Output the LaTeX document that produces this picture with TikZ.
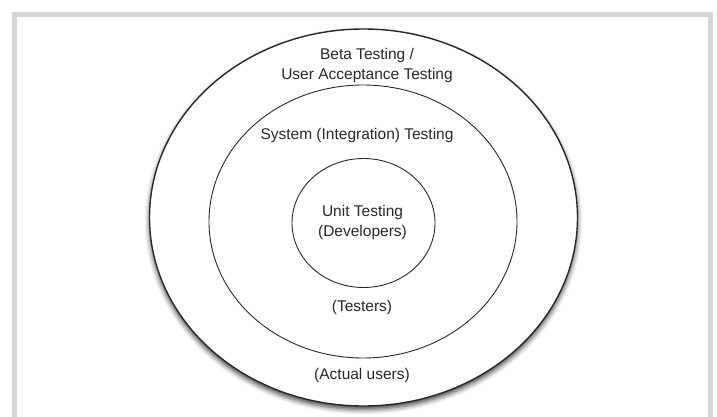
\documentclass[tikz,border=0pt]{standalone}
\usepackage{fontspec}
\setmainfont{Liberation Sans}
\usetikzlibrary{shapes.geometric,shadows.blur}
\definecolor{framegray}{RGB}{214,214,214}
\definecolor{inkgray}{RGB}{40,40,40}

\begin{document}
\begin{tikzpicture}[
    x=1pt, y=-1pt,
    ring/.style={draw=inkgray, ellipse, inner sep=0pt, fill=white},
    label/.style={align=center, font=\fontsize{15.5}{20}\selectfont, text=inkgray, inner sep=0pt}
]
    \useasboundingbox (0,0) rectangle (717,417);

    % Frame
    \draw[framegray, line width=5pt] (14.5,430) -- (14.5,14.5) -- (710,14.5) -- (710,430);

    % Outer ring
    \node[ring, line width=1.4pt, minimum width=428pt, minimum height=377pt,
          blur shadow={shadow xshift=0pt, shadow yshift=-3.5pt, shadow blur radius=5pt, shadow opacity=75}] (beta) at (363.5,217.5) {};

    % Middle ring
    \node[ring, line width=0.9pt, minimum width=308pt, minimum height=273pt] (system) at (363,221.5) {};

    % Inner ring
    \node[ring, line width=0.9pt, minimum width=143pt, minimum height=129pt] (unit) at (363.5,223) {};

    % Labels
    \node[label] (betalbl) at (367,65) {Beta Testing /\\User Acceptance Testing};
    \node[label] (systemlbl) at (357,135) {System (Integration) Testing};
    \node[label] (unitlbl) at (362.5,222) {Unit Testing\\(Developers)};
    \node[label] (testerslbl) at (362,307) {(Testers)};
    \node[label] (userslbl) at (362,375) {(Actual users)};
\end{tikzpicture}
\end{document}
